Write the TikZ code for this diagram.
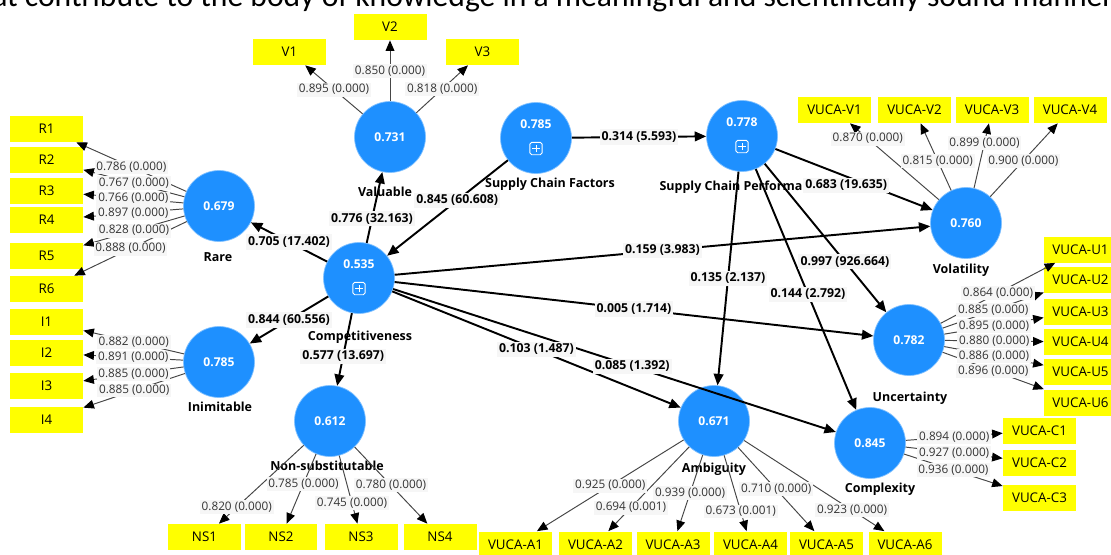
\documentclass[tikz,border=0pt]{standalone}
\usepackage{fontspec}
\setmainfont{Open Sans}
\newfontfamily\docfont{Carlito}
\usetikzlibrary{arrows.meta,positioning}

\definecolor{plsblue}{RGB}{30,144,255}
\definecolor{plsyellow}{RGB}{255,255,0}
\definecolor{linegray}{RGB}{70,70,70}
\definecolor{lblgray}{RGB}{246,246,246}

\newcommand{\lvup}[1]{\smash{\raisebox{5.5pt}{#1}}}

\tikzset{
  lv/.style={circle, fill=plsblue, draw=plsblue!55!white, line width=0.4pt, minimum size=1.42cm, inner sep=0pt, text=white, font=\fontsize{6.9}{8}\selectfont\bfseries},
  mv/.style={rectangle, fill=plsyellow, minimum width=1.46cm, minimum height=0.52cm, inner sep=0pt, font=\fontsize{7.6}{9}\selectfont},
  lvname/.style={inner sep=0pt, font=\fontsize{7.1}{8}\selectfont\bfseries},
  plusbox/.style={draw=white, line width=0.5pt, rounded corners=1pt, minimum size=7pt, inner sep=0pt,
    path picture={\draw[white, line width=0.5pt, sharp corners]
      ([xshift=-2pt]path picture bounding box.center) -- ([xshift=2pt]path picture bounding box.center)
      ([yshift=-2pt]path picture bounding box.center) -- ([yshift=2pt]path picture bounding box.center);}},
  outer/.style={draw=linegray, line width=0.55pt, -{Triangle[length=6pt,width=5pt,color=black]}},
  inner/.style={draw=black, line width=1.1pt, -{Triangle[length=6.5pt,width=5.5pt]}},
  olbl/.style={fill=lblgray, inner sep=1pt, text=black!80, font=\fontsize{6.7}{8}\selectfont},
  ilbl/.style={fill=lblgray, inner sep=1.2pt, font=\fontsize{7}{8}\selectfont\bfseries},
}

\begin{document}
\begin{tikzpicture}[x=0.02cm, y=-0.02cm]
  \useasboundingbox (0,0) rectangle (1111,554);

  % cut-off line of text above the model
  \node[anchor=base west, inner sep=0pt, font=\docfont\fontsize{18}{20}\selectfont] (headline) at (-8,7) {at contribute to the body of knowledge in a meaningful and scientifically sound manner};

  % constructs
  \node[lv] (val) at (390,137) {0.731};
  \node[lv] (rare) at (219,206) {0.679};
  \node[lv] (comp) at (359,278) {\lvup{0.535}};
  \node[lv] (inim) at (219,362) {0.785};
  \node[lv] (nsub) at (330,421) {0.612};
  \node[lv] (scf) at (536,138) {\lvup{0.785}};
  \node[lv] (scp) at (742,136) {\lvup{0.778}};
  \node[lv] (vol) at (966,223) {0.760};
  \node[lv] (unc) at (909,340) {0.782};
  \node[lv] (cplx) at (870,443) {0.845};
  \node[lv] (amb) at (714,421) {0.671};

  \node[plusbox] (compplus) at ([yshift=-6pt]comp.center) {};
  \node[plusbox] (scfplus) at ([yshift=-6pt]scf.center) {};
  \node[plusbox] (scpplus) at ([yshift=-6pt]scp.center) {};

  \node[lvname] (valname) at (385,192) {Valuable};
  \node[lvname] (rarename) at (218,257) {Rare};
  \node[lvname] (compname) at (360,337) {Competitiveness};
  \node[lvname] (inimname) at (220,407) {Inimitable};
  \node[lvname] (nsubname) at (327,466) {Non-substitutable};
  \node[lvname] (scfname) at (550,184) {Supply Chain Factors};
  \node[lvname] (scpname) at (742,187) {Supply Chain Performance};
  \node[lvname] (volname) at (961,270) {Volatility};
  \node[lvname] (uncname) at (910,398) {Uncertainty};
  \node[lvname] (cplxname) at (880,489) {Complexity};
  \node[lvname] (ambname) at (714,469) {Ambiguity};

  % indicators
  \node[mv] (V1) at (289.5,52) {V1};
  \node[mv] (V2) at (390,27) {V2};
  \node[mv] (V3) at (482.5,52) {V3};

  \node[mv] (R1) at (46.5,129) {R1};
  \node[mv] (R2) at (46.5,160) {R2};
  \node[mv] (R3) at (46.5,191) {R3};
  \node[mv] (R4) at (46.5,220) {R4};
  \node[mv] (R5) at (46.5,256) {R5};
  \node[mv] (R6) at (46.5,289) {R6};

  \node[mv] (I1) at (46.5,322) {I1};
  \node[mv] (I2) at (46.5,353) {I2};
  \node[mv] (I3) at (46.5,386) {I3};
  \node[mv] (I4) at (46.5,420) {I4};

  \node[mv] (NS1) at (204.5,537) {NS1};
  \node[mv] (NS2) at (281,537) {NS2};
  \node[mv] (NS3) at (361,537) {NS3};
  \node[mv] (NS4) at (440,537) {NS4};

  \node[mv] (A1) at (515.5,544.5) {VUCA-A1};
  \node[mv] (A2) at (595.5,544.5) {VUCA-A2};
  \node[mv] (A3) at (673,544.5) {VUCA-A3};
  \node[mv] (A4) at (750.5,544.5) {VUCA-A4};
  \node[mv] (A5) at (826.5,544.5) {VUCA-A5};
  \node[mv] (A6) at (905,544.5) {VUCA-A6};

  \node[mv] (VV1) at (834.5,110) {VUCA-V1};
  \node[mv] (VV2) at (914.5,110) {VUCA-V2};
  \node[mv] (VV3) at (992,110) {VUCA-V3};
  \node[mv] (VV4) at (1070,110) {VUCA-V4};

  \node[mv] (U1) at (1080.5,249.5) {VUCA-U1};
  \node[mv] (U2) at (1080.5,279.5) {VUCA-U2};
  \node[mv] (U3) at (1080.5,311.5) {VUCA-U3};
  \node[mv] (U4) at (1080.5,342) {VUCA-U4};
  \node[mv] (U5) at (1080.5,372) {VUCA-U5};
  \node[mv] (U6) at (1080.5,402.5) {VUCA-U6};

  \node[mv] (C1) at (1039.5,430.5) {VUCA-C1};
  \node[mv] (C2) at (1039.5,462.5) {VUCA-C2};
  \node[mv] (C3) at (1039.5,498) {VUCA-C3};

  % outer model
  \draw[outer] (val) -- coordinate[pos=.5] (mV1) (V1);
  \draw[outer] (val) -- coordinate[pos=.5] (mV2) (V2);
  \draw[outer] (val) -- coordinate[pos=.5] (mV3) (V3);

  \draw[outer] (rare) -- coordinate[pos=.5] (mR1) (R1);
  \draw[outer] (rare) -- coordinate[pos=.5] (mR2) (R2);
  \draw[outer] (rare) -- coordinate[pos=.5] (mR3) (R3);
  \draw[outer] (rare) -- coordinate[pos=.5] (mR4) (R4);
  \draw[outer] (rare) -- coordinate[pos=.5] (mR5) (R5);
  \draw[outer] (rare) -- coordinate[pos=.5] (mR6) (R6);

  \draw[outer] (inim) -- coordinate[pos=.5] (mI1) (I1);
  \draw[outer] (inim) -- coordinate[pos=.5] (mI2) (I2);
  \draw[outer] (inim) -- coordinate[pos=.5] (mI3) (I3);
  \draw[outer] (inim) -- coordinate[pos=.5] (mI4) (I4);

  \draw[outer] (nsub) -- coordinate[pos=.79] (mNS1) (NS1);
  \draw[outer] (nsub) -- coordinate[pos=.43] (mNS2) (NS2);
  \draw[outer] (nsub) -- coordinate[pos=.7] (mNS3) (NS3);
  \draw[outer] (nsub) -- coordinate[pos=.5] (mNS4) (NS4);

  \draw[outer] (amb) -- coordinate[pos=.5] (mA1) (A1);
  \draw[outer] (amb) -- coordinate[pos=.72] (mA2) (A2);
  \draw[outer] (amb) -- coordinate[pos=.5] (mA3) (A3);
  \draw[outer] (amb) -- coordinate[pos=.74] (mA4) (A4);
  \draw[outer] (amb) -- coordinate[pos=.5] (mA5) (A5);
  \draw[outer] (amb) -- coordinate[pos=.77] (mA6) (A6);

  \draw[outer] (vol) -- coordinate[pos=.8] (mVV1) (VV1);
  \draw[outer] (vol) -- coordinate[pos=.44] (mVV2) (VV2);
  \draw[outer] (vol) -- coordinate[pos=.7] (mVV3) (VV3);
  \draw[outer] (vol) -- coordinate[pos=.49] (mVV4) (VV4);

  \draw[outer] (unc) -- coordinate[pos=.5] (mU1) (U1);
  \draw[outer] (unc) -- coordinate[pos=.5] (mU2) (U2);
  \draw[outer] (unc) -- coordinate[pos=.5] (mU3) (U3);
  \draw[outer] (unc) -- coordinate[pos=.5] (mU4) (U4);
  \draw[outer] (unc) -- coordinate[pos=.5] (mU5) (U5);
  \draw[outer] (unc) -- coordinate[pos=.5] (mU6) (U6);

  \draw[outer] (cplx) -- coordinate[pos=.5] (mC1) (C1);
  \draw[outer] (cplx) -- coordinate[pos=.5] (mC2) (C2);
  \draw[outer] (cplx) -- coordinate[pos=.5] (mC3) (C3);

  % inner model
  \draw[inner] (scf) -- coordinate[pos=.42] (mscfcomp) (comp);
  \draw[inner] (comp) -- coordinate[pos=.34] (mcompval) (val);
  \draw[inner] (comp) -- coordinate[pos=.5] (mcomprare) (rare);
  \draw[inner] (comp) -- coordinate[pos=.5] (mcompinim) (inim);
  \draw[inner] (comp) -- coordinate[pos=.59] (mcompnsub) (nsub);
  \draw[inner] (scf) -- coordinate[pos=.5] (mscfscp) (scp);
  \draw[inner] (scp) -- coordinate[pos=.45] (mscpvol) (vol);
  \draw[inner] (scp) -- coordinate[pos=.66] (mscpunc) (unc);
  \draw[inner] (scp) -- coordinate[pos=.52] (mscpcplx) (cplx);
  \draw[inner] (scp) -- coordinate[pos=.5] (mscpamb) (amb);
  \draw[inner] (comp) -- coordinate[pos=.5] (mcompvol) (vol);
  \draw[inner] (comp) -- coordinate[pos=.5] (mcompunc) (unc);
  \draw[inner] (comp) -- coordinate[pos=.5] (mcompamb) (amb);
  \draw[inner] (comp) -- coordinate[pos=.54] (mcompcplx) (cplx);

  % loadings
  \node[olbl] at (mV1) {0.895 (0.000)};
  \node[olbl] at (mV2) {0.850 (0.000)};
  \node[olbl] at (mV3) {0.818 (0.000)};
  \node[olbl] at (mR1) {0.786 (0.000)};
  \node[olbl] at (mR2) {0.767 (0.000)};
  \node[olbl] at (mR3) {0.766 (0.000)};
  \node[olbl] at (mR4) {0.897 (0.000)};
  \node[olbl] at (mR5) {0.828 (0.000)};
  \node[olbl] at (mR6) {0.888 (0.000)};
  \node[olbl] at (mI1) {0.882 (0.000)};
  \node[olbl] at (mI2) {0.891 (0.000)};
  \node[olbl] at (mI3) {0.885 (0.000)};
  \node[olbl] at (mI4) {0.885 (0.000)};
  \node[olbl] at (mNS1) {0.820 (0.000)};
  \node[olbl] at (mNS2) {0.785 (0.000)};
  \node[olbl] at (mNS3) {0.745 (0.000)};
  \node[olbl] at (mNS4) {0.780 (0.000)};
  \node[olbl] at (mA1) {0.925 (0.000)};
  \node[olbl] at (mA2) {0.694 (0.001)};
  \node[olbl] at (mA3) {0.939 (0.000)};
  \node[olbl] at (mA4) {0.673 (0.001)};
  \node[olbl] at (mA5) {0.710 (0.000)};
  \node[olbl] at (mA6) {0.923 (0.000)};
  \node[olbl] at (mVV1) {0.870 (0.000)};
  \node[olbl] at (mVV2) {0.815 (0.000)};
  \node[olbl] at (mVV3) {0.899 (0.000)};
  \node[olbl] at (mVV4) {0.900 (0.000)};
  \node[olbl] at (mU1) {0.864 (0.000)};
  \node[olbl] at (mU2) {0.885 (0.000)};
  \node[olbl] at (mU3) {0.895 (0.000)};
  \node[olbl] at (mU4) {0.880 (0.000)};
  \node[olbl] at (mU5) {0.886 (0.000)};
  \node[olbl] at (mU6) {0.896 (0.000)};
  \node[olbl] at (mC1) {0.894 (0.000)};
  \node[olbl] at (mC2) {0.927 (0.000)};
  \node[olbl] at (mC3) {0.936 (0.000)};

  % path coefficients
  \node[ilbl] at (mscfcomp) {0.845 (60.608)};
  \node[ilbl] at (mcompval) {0.776 (32.163)};
  \node[ilbl] at (mcomprare) {0.705 (17.402)};
  \node[ilbl] at (mcompinim) {0.844 (60.556)};
  \node[ilbl] at (mcompnsub) {0.577 (13.697)};
  \node[ilbl] at (mscfscp) {0.314 (5.593)};
  \node[ilbl, yshift=-5pt] at (mscpvol) {0.683 (19.635)};
  \node[ilbl] at (mscpunc) {0.997 (926.664)};
  \node[ilbl] at (mscpcplx) {0.144 (2.792)};
  \node[ilbl] at (mscpamb) {0.135 (2.137)};
  \node[ilbl] at (mcompvol) {0.159 (3.983)};
  \node[ilbl] at (mcompunc) {0.005 (1.714)};
  \node[ilbl] at (mcompamb) {0.103 (1.487)};
  \node[ilbl] at (mcompcplx) {0.085 (1.392)};
\end{tikzpicture}
\end{document}
